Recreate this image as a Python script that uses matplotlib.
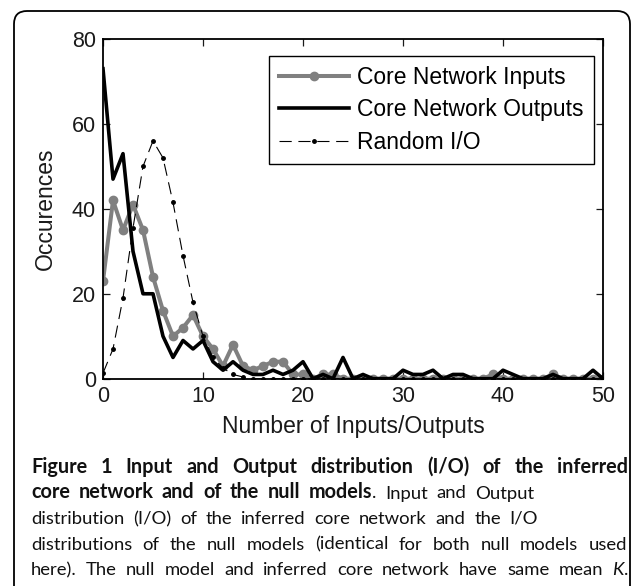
import numpy as np
import matplotlib
matplotlib.use("Agg")
import matplotlib.pyplot as plt
from matplotlib.patches import FancyBboxPatch
from matplotlib.transforms import IdentityTransform

W, H = 633, 586
AX_FONT = "Liberation Sans"
CAP_FONT = "Lato"
TICK_SIZE = 15.5
LABEL_SIZE = 16.5

# data
degree = list(range(0, 51))
core_inputs = [23, 42, 35, 41, 35, 24, 16, 10, 12, 15, 10, 7, 3, 8, 3, 2, 3, 4, 4, 1,
               1, 0, 1, 1, 0, 0, 0, 0, 0, 0, 0, 0, 0, 0, 0, 0, 0, 0, 0, 1,
               0, 0, 0, 0, 0, 1, 0, 0, 0, 0, 0]
core_outputs = [73, 47, 53, 30, 20, 20, 10, 5, 9, 7, 9, 4, 2, 4, 2, 1, 1, 2, 1, 2,
                4, 0, 1, 0, 5, 0, 1, 0, 0, 0, 2, 1, 1, 2, 0, 1, 1, 0, 0, 0,
                2, 1, 0, 0, 0, 1, 0, 0, 0, 2, 0]
random_io = [1.3, 7, 19, 35.5, 50, 56, 52, 41.5, 29, 18, 10, 5, 2.5, 1, 0.4, 0, 0, 0, 0, 0,
             0, 0, 0, 0, 0, 0, 0, 0, 0, 0, 0, 0, 0, 0, 0, 0, 0, 0, 0, 0,
             0, 0, 0, 0, 0, 0, 0, 0, 0, 0, 0]
series_labels = ["Core Network Inputs", "Core Network Outputs", "Random I/O"]
x_ticks = [0, 10, 20, 30, 40, 50]
y_ticks = [0, 20, 40, 60, 80]

# caption lines: runs of (text, weight, style)
caption = [
    [("Figure 1 Input and Output distribution (I/O) of the inferred", "bold", "normal")],
    [("core network and of the null models", "bold", "normal"),
     (". Input and Output", "normal", "normal")],
    [("distribution (I/O) of the inferred core network and the I/O", "normal", "normal")],
    [("distributions of the null models (identical for both null models used", "normal", "normal")],
    [("here). The null model and inferred core network have same mean ", "normal", "normal"),
     ("K", "normal", "italic"), (".", "normal", "normal")],
]
caption_baselines = [473, 498.5, 524, 549.5, 575]
caption_ends = [628, 534, 538, 627, 628]
CAP_SIZE = {"bold": 14.3, "normal": 13.3}


def px(x, y):
    return x / W, 1 - y / H


fig = plt.figure(figsize=(W / 100, H / 100), dpi=100)
fig.patch.set_facecolor("white")

# rounded frame around the whole figure panel
frame = FancyBboxPatch((14, -30), 616, 605, boxstyle="round,pad=0,rounding_size=13",
                       transform=IdentityTransform(), facecolor="none",
                       edgecolor="black", linewidth=1.3)
fig.patches.append(frame)

left, top = px(103, 39)
_, bottom = px(103, 378.7)
ax = fig.add_axes([left, bottom, 500 / W, top - bottom])

ax.plot(degree, core_inputs, color="#808080", lw=2.9, marker="o", ms=6,
        label=series_labels[0], zorder=2)
ax.plot(degree, core_outputs, color="black", lw=2.6, label=series_labels[1], zorder=3)
ax.plot(degree, random_io, color="black", lw=0.8, ls=(0, (11, 6)), marker=".", ms=5,
        label=series_labels[2], zorder=4)

ax.set_xlim(0, 50)
ax.set_ylim(0, 80)
ax.set_xticks(x_ticks)
ax.set_yticks(y_ticks)
ax.tick_params(direction="in", length=5, width=0.9, top=True, right=True,
               labelsize=TICK_SIZE, pad=5, colors="#1a1a1a")
for lab in ax.get_xticklabels() + ax.get_yticklabels():
    lab.set_fontfamily(AX_FONT)
for sp in ax.spines.values():
    sp.set_linewidth(1.3)

leg = ax.legend(loc="upper right", bbox_to_anchor=(0.982, 0.950), borderaxespad=0,
                prop={"family": AX_FONT, "size": LABEL_SIZE}, handlelength=3.05,
                handletextpad=0.35, labelspacing=0.4, borderpad=0.45,
                fancybox=False, framealpha=1, numpoints=1)
leg.get_frame().set_edgecolor("black")
leg.get_frame().set_linewidth(1.0)

fig.text(*px(45, 209), "Occurences", rotation=90, ha="center", va="center",
         family=AX_FONT, fontsize=LABEL_SIZE, color="#1a1a1a")
fig.text(*px(353, 427), "Number of Inputs/Outputs", ha="center", va="center",
         family=AX_FONT, fontsize=LABEL_SIZE, color="#1a1a1a")

# caption, laid out word by word
renderer = fig.canvas.get_renderer()


def text_width(s, weight, style):
    t = fig.text(0, 0, s, family=CAP_FONT, fontsize=CAP_SIZE[weight], weight=weight, style=style)
    w = t.get_window_extent(renderer).width
    t.remove()
    return w


x0 = 31
for runs, base, x1 in zip(caption, caption_baselines, caption_ends):
    words = [[]]
    for text, weight, style in runs:
        for i, part in enumerate(text.split(" ")):
            if i > 0:
                words.append([])
            if part:
                words[-1].append((part, weight, style))
    words = [w for w in words if w]
    widths = [[text_width(*seg) for seg in w] for w in words]
    total = sum(sum(ws) for ws in widths)
    gap = (x1 - x0 - total) / (len(words) - 1)
    cx = x0
    for w, ws in zip(words, widths):
        for (s, weight, style), sw in zip(w, ws):
            fig.text(cx / W, 1 - base / H, s, family=CAP_FONT, fontsize=CAP_SIZE[weight],
                     weight=weight, style=style, va="baseline", ha="left", color="#111111")
            cx += sw
        cx += gap

fig.savefig("out.png", dpi=100)
